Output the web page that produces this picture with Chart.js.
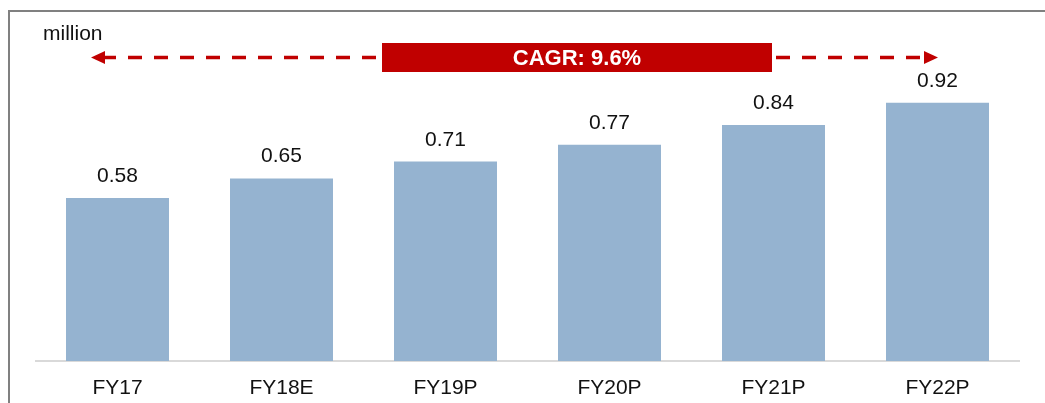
<!DOCTYPE html>
<html>
<head>
<meta charset="utf-8">
<title>Sales outlook FY17-FY22P</title>
<script src="https://cdn.jsdelivr.net/npm/chart.js@4"></script>
<style>
    html, body { margin: 0; padding: 0; background: #fff; }
    #wrap { position: relative; width: 1045px; height: 403px; }
</style>
</head>
<body>
<div id="wrap"><canvas id="salesChart" width="1045" height="403"></canvas></div>
<script>
// Chart data
const categories = ['FY17', 'FY18E', 'FY19P', 'FY20P', 'FY21P', 'FY22P'];
const sales = [0.58, 0.65, 0.71, 0.77, 0.84, 0.92];
const unitLabel = 'million';
const cagrLabel = 'CAGR: 9.6%';

const FONT = "'Liberation Sans', Arial, sans-serif";
const RED = '#C00000';

// Frame, value labels and the CAGR arrow
const overlay = {
    id: 'overlay',
    beforeDraw(chart) {
        const ctx = chart.ctx;
        ctx.save();
        ctx.strokeStyle = '#808080';
        ctx.lineWidth = 2;
        ctx.beginPath();
        ctx.moveTo(9, 403);
        ctx.lineTo(9, 11);
        ctx.lineTo(1045, 11);
        ctx.stroke();
        ctx.restore();
    },
    afterDatasetsDraw(chart) {
        const ctx = chart.ctx;
        const meta = chart.getDatasetMeta(0);
        ctx.save();

        // values above bars
        ctx.fillStyle = '#111';
        ctx.font = `21px ${FONT}`;
        ctx.textAlign = 'center';
        ctx.textBaseline = 'alphabetic';
        meta.data.forEach((bar, i) => {
            ctx.fillText(sales[i].toFixed(2), bar.x, bar.y - 16);
        });

        // unit label
        ctx.textAlign = 'left';
        ctx.fillText(unitLabel, 43, 40);

        // dashed arrow
        const y = 57.5;
        const boxL = 382, boxR = 772;
        ctx.strokeStyle = RED;
        ctx.fillStyle = RED;
        ctx.lineWidth = 3.5;
        ctx.setLineDash([14, 12]);
        ctx.beginPath();
        ctx.moveTo(boxL - 6, y);
        ctx.lineTo(104, y);
        ctx.moveTo(boxR + 4, y);
        ctx.lineTo(925, y);
        ctx.stroke();
        ctx.setLineDash([]);

        // arrow heads
        ctx.beginPath();
        ctx.moveTo(91, y);
        ctx.lineTo(105, y - 6.5);
        ctx.lineTo(105, y + 6.5);
        ctx.closePath();
        ctx.fill();
        ctx.beginPath();
        ctx.moveTo(938, y);
        ctx.lineTo(924, y - 6.5);
        ctx.lineTo(924, y + 6.5);
        ctx.closePath();
        ctx.fill();

        // CAGR box
        ctx.fillRect(boxL, 43, boxR - boxL, 29);
        ctx.fillStyle = '#fff';
        ctx.font = `bold 22px ${FONT}`;
        ctx.textAlign = 'center';
        ctx.fillText(cagrLabel, (boxL + boxR) / 2, 65);

        ctx.restore();
    }
};

const salesChart = new Chart(document.getElementById('salesChart').getContext('2d'), {
    type: 'bar',
    data: {
        labels: categories,
        datasets: [{
            data: sales,
            backgroundColor: '#95B3D0',
            borderWidth: 0,
            categoryPercentage: 1,
            barPercentage: 0.628
        }]
    },
    options: {
        responsive: false,
        animation: false,
        layout: { padding: { left: 35.5, right: 25.5, top: 24, bottom: 0 } },
        plugins: {
            legend: { display: false },
            tooltip: { enabled: false }
        },
        scales: {
            x: {
                grid: { display: false },
                border: { display: true, color: '#D9D9D9', width: 2 },
                ticks: { color: '#111', padding: 7, font: { family: FONT, size: 21 } },
                afterFit(scale) { scale.height = 42; }
            },
            y: {
                display: false,
                min: 0,
                max: 1.2
            }
        }
    },
    plugins: [overlay]
});
</script>
</body>
</html>
